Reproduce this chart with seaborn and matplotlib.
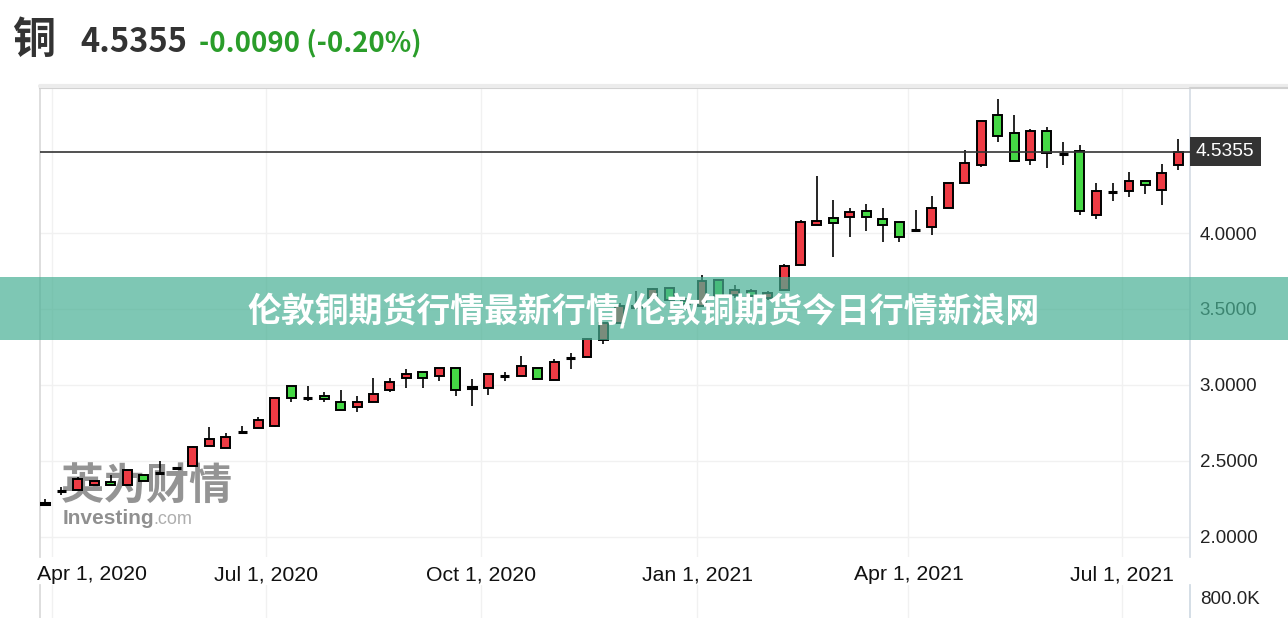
import matplotlib
matplotlib.use('Agg')
import matplotlib.pyplot as plt
import matplotlib.transforms as mtrans
from matplotlib.patches import Rectangle
from matplotlib.lines import Line2D
import seaborn as sns
import pandas as pd
import numpy as np

####### Data (weekly OHLC) #######
opens = [2.218, 2.298, 2.309, 2.338, 2.360, 2.338, 2.403, 2.420, 2.451, 2.465,
         2.600, 2.585, 2.687, 2.716, 2.731, 2.993, 2.912, 2.925, 2.888, 2.851,
         2.888, 2.967, 3.043, 3.085, 3.058, 3.109, 2.982, 2.978, 3.056, 3.058,
         3.109, 3.030, 3.174, 3.185, 3.294, 3.408, 3.515, 3.570, 3.638, 3.550,
         3.517, 3.692, 3.594, 3.615, 3.572, 3.627, 3.788, 4.052, 4.096, 4.107,
         4.146, 4.094, 4.070, 4.020, 4.041, 4.162, 4.330, 4.446, 4.778, 4.657,
         4.483, 4.675, 4.522, 4.539, 4.118, 4.270, 4.277, 4.343, 4.286, 4.446]
highs = [2.250, 2.327, 2.393, 2.364, 2.403, 2.442, 2.403, 2.497, 2.451, 2.600,
         2.720, 2.683, 2.731, 2.786, 2.912, 2.993, 2.993, 2.950, 2.967, 2.927,
         3.048, 3.048, 3.102, 3.085, 3.109, 3.109, 3.037, 3.069, 3.085, 3.189,
         3.109, 3.168, 3.207, 3.310, 3.408, 3.540, 3.615, 3.638, 3.640, 3.570,
         3.725, 3.692, 3.660, 3.630, 3.620, 3.797, 4.085, 4.374, 4.216, 4.162,
         4.188, 4.162, 4.070, 4.151, 4.242, 4.330, 4.544, 4.740, 4.883, 4.780,
         4.686, 4.701, 4.598, 4.583, 4.330, 4.330, 4.402, 4.343, 4.452, 4.620]
lows = [2.212, 2.272, 2.309, 2.338, 2.338, 2.335, 2.364, 2.415, 2.436, 2.465,
        2.600, 2.585, 2.685, 2.716, 2.725, 2.884, 2.894, 2.888, 2.836, 2.818,
        2.888, 2.950, 2.976, 2.976, 3.026, 2.923, 2.858, 2.932, 3.026, 3.058,
        3.041, 3.030, 3.107, 3.185, 3.266, 3.400, 3.507, 3.561, 3.561, 3.495,
        3.517, 3.583, 3.570, 3.565, 3.560, 3.627, 3.788, 4.052, 3.841, 3.972,
        4.013, 3.943, 3.943, 4.010, 3.987, 4.162, 4.330, 4.435, 4.598, 4.472,
        4.446, 4.431, 4.446, 4.118, 4.090, 4.210, 4.234, 4.260, 4.183, 4.417]
closes = [2.220, 2.300, 2.381, 2.364, 2.338, 2.442, 2.364, 2.421, 2.450, 2.589,
          2.640, 2.655, 2.688, 2.770, 2.912, 2.912, 2.913, 2.905, 2.836, 2.888,
          2.940, 3.019, 3.069, 3.048, 3.109, 2.967, 2.983, 3.069, 3.057, 3.124,
          3.041, 3.150, 3.175, 3.299, 3.408, 3.520, 3.518, 3.630, 3.561, 3.530,
          3.681, 3.583, 3.627, 3.587, 3.605, 3.784, 4.072, 4.081, 4.064, 4.136,
          4.107, 4.052, 3.972, 4.021, 4.162, 4.330, 4.461, 4.736, 4.642, 4.472,
          4.675, 4.526, 4.523, 4.146, 4.277, 4.271, 4.343, 4.319, 4.395, 4.5355]
weeks = pd.date_range('2020-03-29', periods=len(opens), freq='7D')

last_price = 4.5355
last_txt = '4.5355'
change_txt = '-0.0090 (-0.20%)'
title_txt = '铜'
banner_txt = '伦敦铜期货行情最新行情/伦敦铜期货今日行情新浪网'

y_ticks = [2.0, 2.5, 3.0, 3.5, 4.0]
x_ticks = pd.to_datetime(['2020-04-01', '2020-07-01', '2020-10-01',
                          '2021-01-01', '2021-04-01', '2021-07-01'])
x_labels = ['Apr 1, 2020', 'Jul 1, 2020', 'Oct 1, 2020',
            'Jan 1, 2021', 'Apr 1, 2021', 'Jul 1, 2021']
vol_tick = [800000]
vol_label = ['800.0K']

####### Style #######
sns.set_theme(style='white')
plt.rcParams['font.family'] = ['Liberation Sans', 'Noto Sans CJK SC', 'DejaVu Sans']

RED = '#ee3b44'
GREEN = '#45d845'
W, H = 1288, 618

def box(l, t, r, b):
    return [l / W, 1 - b / H, (r - l) / W, (b - t) / H]

fig = plt.figure(figsize=(W / 100, H / 100), dpi=100)
fig.patch.set_facecolor('white')
ax = fig.add_axes(box(40, 88, 1190, 557))
axv = fig.add_axes(box(40, 585, 1190, 651), sharex=ax)

df = pd.DataFrame({'date': weeks, 'open': opens, 'high': highs,
                   'low': lows, 'close': closes})
df['bottom'] = df[['open', 'close']].min(axis=1)
df['height'] = (df['close'] - df['open']).abs()
df['doji'] = df['height'] < 0.005
df['color'] = np.where(df['doji'], 'black',
                       np.where(df['close'] > df['open'], RED, GREEN))

# wicks
ax.vlines(df['date'], df['low'], df['high'], color='black', lw=1.2, zorder=3)
# bodies
body = df[~df['doji']]
ax.bar(body['date'], body['height'], bottom=body['bottom'], width=3.8,
       color=body['color'], edgecolor='black', linewidth=1.4, zorder=4)
dj = df[df['doji']]
ax.bar(dj['date'], dj['height'], bottom=dj['bottom'], width=3.8,
       color='black', edgecolor='black', linewidth=2.2, zorder=4)

# last price line
ax.axhline(last_price, color='#333333', lw=1.2, zorder=5)

# axes limits: px/day from gridline spacing
pxday = (1122 - 52) / 456.0
x0 = x_ticks[0] - pd.Timedelta(days=12 / pxday)
x1 = x_ticks[-1] + pd.Timedelta(days=68 / pxday)
ax.set_xlim(x0, x1)
ax.set_ylim(4 - 324 / 151.8, 4 + 145 / 151.8)

ax.set_xticks(x_ticks)
ax.tick_params(axis='x', length=0, labelbottom=False)
ax.yaxis.tick_right()
ax.set_yticks(y_ticks)
ax.set_yticklabels(['%.4f' % v for v in y_ticks])
ax.tick_params(axis='y', length=0, pad=7, labelsize=13.5, labelcolor='#222222')
ax.grid(True, color='#f1f1f1', lw=1)
ax.set_axisbelow(True)
ax.spines['bottom'].set_visible(False)
ax.spines['left'].set_color('#d9d9d9')
ax.spines['top'].set_color('#d0d0d0')
ax.spines['top'].set_linewidth(1.5)
ax.spines['right'].set_color('#d6dde5')

# x labels between the panels
tr = mtrans.blended_transform_factory(ax.transData, ax.transAxes)
ylab = (557 - 575) / (557 - 88)
for i, (d, lab) in enumerate(zip(x_ticks, x_labels)):
    if i == 0:
        ax.text(x0 - pd.Timedelta(days=1.2), ylab, lab, transform=tr, ha='left',
                va='center', fontsize=15.3, color='#111111')
    else:
        ax.text(d, ylab, lab, transform=tr, ha='center', va='center',
                fontsize=15.3, color='#111111')

# price box on the right
trp = mtrans.blended_transform_factory(ax.transAxes, ax.transData)
ax.text((1196 - 40) / 1150, last_price, last_txt, transform=trp, ha='left',
        va='center', color='white', fontsize=13.8, zorder=6,
        bbox=dict(boxstyle='square,pad=0.32', fc='#333333', ec='none'))

# volume panel (only top part visible)
axv.set_ylim(0, 977800)
axv.yaxis.tick_right()
axv.set_yticks(vol_tick)
axv.set_yticklabels(vol_label)
axv.tick_params(axis='y', length=0, pad=7, labelsize=13.5, labelcolor='#222222')
axv.tick_params(axis='x', length=0, labelbottom=False)
axv.grid(True, axis='x', color='#f1f1f1', lw=1)
axv.spines['top'].set_visible(False)
axv.spines['bottom'].set_visible(False)
axv.spines['left'].set_color('#d9d9d9')
axv.spines['right'].set_color('#cfd9e3')

# top border across the header strip
fig.add_artist(Line2D([40 / W, 1], [1 - 86 / H, 1 - 86 / H], color='#ececec', lw=3))
fig.add_artist(Line2D([1190 / W, 1], [1 - 88 / H, 1 - 88 / H], color='#d0d0d0', lw=1.5))

# header texts
cjk = ['Noto Sans CJK SC', 'DejaVu Sans']
fig.text(12 / W, 1 - 40 / H, title_txt, fontsize=31, fontweight='bold',
         color='#333333', va='center', ha='left', family=cjk)
fig.text(80 / W, 1 - 42 / H, last_txt, fontsize=23.5, fontweight='bold',
         color='#333333', va='center', ha='left', family=cjk)
fig.text(199 / W, 1 - 43 / H, change_txt, fontsize=19.8, fontweight='bold',
         color='#2a9d2a', va='center', ha='left', family=cjk)

# watermark (under the candles)
ax.text(61 / W, 1 - 486 / H, '英为财情', fontsize=31, fontweight='heavy',
        color='#707070', alpha=0.75, va='center', ha='left', family=cjk,
        transform=fig.transFigure, zorder=2)
ax.text(63 / W, 1 - 518 / H, 'Investing', fontsize=15, fontweight='bold',
        color='#757575', alpha=0.8, va='center', ha='left',
        transform=fig.transFigure, zorder=2)
ax.text(153 / W, 1 - 519 / H, '.com', fontsize=13, color='#9a9a9a',
        alpha=0.8, va='center', ha='left', transform=fig.transFigure, zorder=2)

# banner overlay
fig.add_artist(Rectangle((0, 1 - 340 / H), 1, 63 / H, transform=fig.transFigure,
                         facecolor='#48b094', alpha=0.7, edgecolor='none', zorder=10))
fig.text(0.5, 1 - 311 / H, banner_txt, fontsize=24.4, fontweight='bold',
         color='white', va='center', ha='center', family=cjk, zorder=11)

fig.savefig('out.png', dpi=100)
